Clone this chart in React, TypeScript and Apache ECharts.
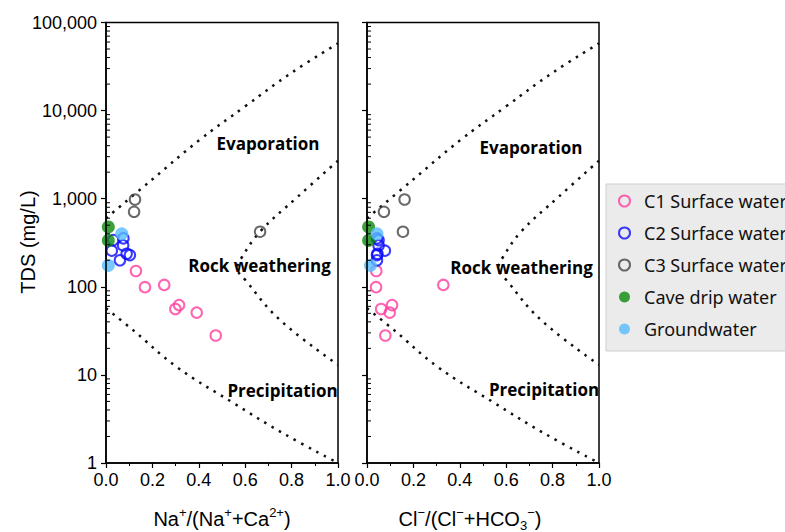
import React, { useEffect, useRef } from "react";
import * as echarts from "echarts";

// ---- data ----
const c1Tds = [151, 99, 105, 62, 56, 51, 28];
const c1Na = [0.129, 0.168, 0.251, 0.315, 0.299, 0.391, 0.473];
const c1Cl = [0.04, 0.039, 0.329, 0.108, 0.061, 0.098, 0.079];

const c2Tds = [339, 355, 295, 257, 237, 229, 200];
const c2Na = [0.031, 0.075, 0.074, 0.025, 0.089, 0.103, 0.06];
const c2Cl = [0.05, 0.043, 0.05, 0.077, 0.045, 0.043, 0.043];

const c3Tds = [980, 710, 422];
const c3Na = [0.125, 0.121, 0.664];
const c3Cl = [0.162, 0.073, 0.155];

const caveTds = [478, 336];
const caveNa = [0.01, 0.01];
const caveCl = [0.007, 0.007];

const gwTds = [400, 175];
const gwNa = [0.068, 0.01];
const gwCl = [0.043, 0.015];

// Gibbs boundary curves
const evapX = [0, 0.2, 0.4, 0.6, 0.8, 1.0];
const evapTds = [600, 1660, 4570, 11200, 26900, 58000];
const rockX = [1.0, 0.826, 0.664, 0.585, 0.566, 0.6, 0.75, 1.0];
const rockTds = [2700, 1050, 422, 215, 162, 120, 42, 13];
const precX = [0, 0.118, 0.305, 0.549, 0.764, 1.0];
const precTds = [57, 32, 12.3, 4.8, 2.17, 1.0];

const xTickLabels = ["0.0", "0.2", "0.4", "0.6", "0.8", "1.0"];
const yDecades = [1, 10, 100, 1000, 10000];
const yMinorMult = [2, 3, 4, 5, 6, 7, 8, 9];

const seriesNames = [
  "C1 Surface water",
  "C2 Surface water",
  "C3 Surface water",
  "Cave drip water",
  "Groundwater",
];
const seriesColors = ["#ff3d9e", "#0a0aff", "#444444", "#0b8a0b", "#55bcff"];

const zip = (xs: number[], ys: number[]) => xs.map((x, i) => [x, ys[i]]);

export default function App() {
  const ref = useRef<HTMLDivElement>(null);
  useEffect(() => {
    if (!ref.current) return;
    const chart = echarts.init(ref.current, null, { renderer: "svg" });
    const tickFont = "Liberation Sans, Arial, sans-serif";
    const minorVals: number[] = [];
    yDecades.forEach((d) => yMinorMult.forEach((m) => minorVals.push(d * m)));

    const xAxisBase = (gi: number) => ({
      type: "value",
      gridIndex: gi,
      min: 0,
      max: 1,
      interval: 0.2,
      z: 5,
      axisLine: { lineStyle: { color: "#000", width: 1.5 } },
      axisTick: { length: 5, lineStyle: { color: "#000", width: 1.2 } },
      minorTick: { show: true, splitNumber: 2, length: 3, lineStyle: { color: "#000", width: 1 } },
      splitLine: { show: false },
      axisLabel: {
        fontSize: 18,
        color: "#000",
        fontFamily: tickFont,
        margin: 8,
        formatter: (v: number) => xTickLabels[Math.round(v / 0.2)] ?? v.toFixed(1),
      },
    });
    const yAxisBase = (gi: number, showLabel: boolean) => ({
      type: "log",
      logBase: 10,
      gridIndex: gi,
      min: 1,
      max: 100000,
      splitNumber: 5,
      z: 5,
      axisLine: { show: true, lineStyle: { color: "#000", width: 1.5 } },
      axisTick: { length: 5, lineStyle: { color: "#000", width: 1.2 } },
      splitLine: { show: false },
      axisLabel: {
        show: showLabel,
        fontSize: 18,
        color: "#000",
        fontFamily: tickFont,
        margin: 9,
        formatter: (v: number) => Number(v).toLocaleString("en-US"),
      },
    });

    const series: any[] = [];
    const groups = [
      { tds: c1Tds, na: c1Na, cl: c1Cl, open: true },
      { tds: c2Tds, na: c2Na, cl: c2Cl, open: true },
      { tds: c3Tds, na: c3Na, cl: c3Cl, open: true },
      { tds: caveTds, na: caveNa, cl: caveCl, open: false },
      { tds: gwTds, na: gwNa, cl: gwCl, open: false },
    ];
    const curveStyle = { color: "#111", width: 2.5, type: [2.5, 6] as any, cap: "butt" };
    [0, 1].forEach((gi) => {
      [
        zip(evapX, evapTds),
        zip(rockX, rockTds),
        zip(precX, precTds),
      ].forEach((d) =>
        series.push({
          type: "line",
          xAxisIndex: gi,
          yAxisIndex: gi,
          data: d,
          smooth: 0.4,
          showSymbol: false,
          symbol: "none",
          silent: true,
          lineStyle: curveStyle,
          z: 1,
        })
      );
      series.push({
        type: "custom",
        xAxisIndex: gi,
        yAxisIndex: gi,
        data: minorVals.map((v) => [0, v]),
        silent: true,
        clip: false,
        z: 6,
        renderItem: (_p: any, api: any) => {
          const pt = api.coord([0, api.value(1)]);
          return {
            type: "line",
            shape: { x1: pt[0], y1: pt[1], x2: pt[0] + 4, y2: pt[1] },
            style: { stroke: "#000", lineWidth: 1 },
          };
        },
      });
    });
    groups.forEach((g, k) => {
      [0, 1].forEach((gi) => {
        series.push({
          type: "scatter",
          name: seriesNames[k],
          xAxisIndex: gi,
          yAxisIndex: gi,
          data: zip(gi === 0 ? g.na : g.cl, g.tds),
          symbol: "circle",
          symbolSize: g.open ? 10.5 : 13,
          itemStyle: g.open
            ? { color: "rgba(255,255,255,0)", borderColor: seriesColors[k], borderWidth: 2 }
            : { color: seriesColors[k], borderWidth: 0 },
          z: 3,
        });
      });
    });

    const labelStyle = (text: string) => ({
      text,
      fontSize: 17,
      fontWeight: "bold",
      fontFamily: "Open Sans, Noto Sans, sans-serif",
      fill: "#000",
      align: "center",
      verticalAlign: "middle",
    });
    const rich = {
      n: { fontSize: 20, fontFamily: tickFont, lineHeight: 26, verticalAlign: "middle", color: "#000" },
      s: { fontSize: 13, fontFamily: tickFont, lineHeight: 14, verticalAlign: "top", color: "#000" },
      b: { fontSize: 13, fontFamily: tickFont, lineHeight: 14, verticalAlign: "bottom", color: "#000" },
    };

    chart.setOption({
      animation: false,
      backgroundColor: "#fff",
      grid: [
        { left: 106, top: 22.5, width: 232, height: 440.5, show: true, borderColor: "#000", borderWidth: 1.5, backgroundColor: "transparent" },
        { left: 367, top: 22.5, width: 232, height: 440.5, show: true, borderColor: "#000", borderWidth: 1.5, backgroundColor: "transparent" },
      ],
      xAxis: [xAxisBase(0), xAxisBase(1)],
      yAxis: [yAxisBase(0, true), yAxisBase(1, false)],
      legend: {
        data: seriesNames,
        orient: "vertical",
        left: 606,
        top: 184,
        itemWidth: 11,
        itemHeight: 11,
        itemGap: 12,
        padding: [7, 20, 12, 12],
        backgroundColor: "#ebebeb",
        borderColor: "#cfcfcf",
        borderWidth: 1,
        borderRadius: 0,
        textStyle: {
          fontSize: 18,
          lineHeight: 20,
          color: "#111",
          fontFamily: "Noto Sans, Open Sans, sans-serif",
          padding: [0, 0, 0, 9],
        },
      },
      graphic: [
        { type: "text", x: 268, y: 143, style: labelStyle("Evaporation"), z: 10 },
        { type: "text", x: 531, y: 147.5, style: labelStyle("Evaporation"), z: 10 },
        { type: "text", x: 259.5, y: 265, style: labelStyle("Rock weathering"), z: 10 },
        { type: "text", x: 521.5, y: 267, style: labelStyle("Rock weathering"), z: 10 },
        { type: "text", x: 282.5, y: 390, style: labelStyle("Precipitation"), z: 10 },
        { type: "text", x: 544, y: 389, style: labelStyle("Precipitation"), z: 10 },
        {
          type: "text",
          x: 28,
          y: 242,
          rotation: Math.PI / 2,
          style: {
            text: "TDS (mg/L)",
            fontSize: 20,
            fontFamily: tickFont,
            fill: "#000",
            align: "center",
            verticalAlign: "middle",
          },
        },
        {
          type: "text",
          x: 222,
          y: 519,
          style: {
            text: "{n|Na}{s|+}{n|/(Na}{s|+}{n|+Ca}{s|2+}{n|)}",
            rich,
            align: "center",
            verticalAlign: "middle",
          },
        },
        {
          type: "text",
          x: 470,
          y: 519,
          style: {
            text: "{n|Cl}{s|−}{n|/(Cl}{s|−}{n|+HCO}{b|3}{s|−}{n|)}",
            rich,
            align: "center",
            verticalAlign: "middle",
          },
        },
      ],
      series,
    });
    return () => chart.dispose();
  }, []);
  return (
    <div
      ref={ref}
      style={{ position: "fixed", left: 0, top: 0, width: 785, height: 532 }}
    />
  );
}
